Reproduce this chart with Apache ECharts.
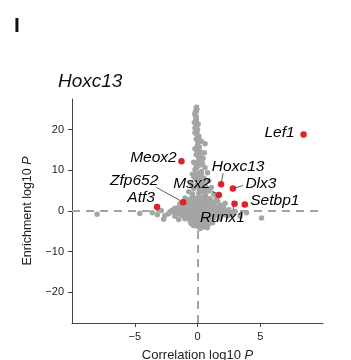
<!DOCTYPE html>
<html>
<head>
<meta charset="utf-8">
<script src="https://cdn.jsdelivr.net/npm/echarts@6/dist/echarts.min.js"></script>
<style>
html,body{margin:0;padding:0;background:#fff;}
#c{width:351px;height:360px;}
</style>
</head>
<body>
<div id="c"></div>
<script>
var xTicks = [-5, 0, 5];
var yTicks = [-20, -10, 0, 10, 20];

// background genes (gray)
var grayPoints = [
 [-0.1,25.5],[-0.15,24.5],[-0.2,23.6],[-0.1,22.8],[-0.25,21.7],[-0.1,20.9],[0.0,20.0],[-0.2,19.2],[0.1,18.4],[-0.1,17.6],
 [0.3,17.1],[0.6,16.5],[0.0,16.2],[-0.2,15.3],[0.2,14.6],[0.55,14.3],[-0.1,13.8],[0.3,13.2],[0.1,12.5],[-0.3,12.0],
 [0.4,11.6],[0.0,11.0],[0.6,10.6],[-0.2,10.2],[0.3,9.7],[0.8,9.4],[-0.4,9.0],[0.1,8.6],[0.5,8.1],[-0.1,7.7],
 [0.9,7.4],[0.3,7.0],[-0.5,6.7],[0.6,6.3],[0.0,6.0],[1.1,5.8],[-0.3,5.5],[0.4,5.2],[0.9,4.9],[-0.7,4.7],
 [0.1,4.4],[1.3,4.1],[0.6,3.9],[-0.4,3.7],[0.2,3.4],[-1.0,3.2],[1.0,3.0],[0.5,2.8],[-0.2,2.6],[1.6,2.4],
 [-0.7,2.3],[0.8,2.1],[0.2,1.9],[-1.4,1.8],[1.3,1.6],[-0.4,1.5],[0.5,1.3],[2.0,1.2],[-1.0,1.1],[1.0,0.9],
 [0.0,0.8],[-1.8,0.7],[1.7,0.6],[-0.6,0.5],[0.6,0.4],[2.5,0.3],[-1.3,0.2],[1.3,0.1],[-0.2,0.0],[3.0,-0.1],
 [-2.2,-0.2],[0.9,-0.3],[-0.9,-0.4],[2.0,-0.5],[0.3,-0.6],[-1.6,-0.7],[1.5,-0.8],[-0.4,-0.9],[0.6,-1.0],[-2.6,-1.1],
 [2.4,-1.2],[-1.1,-1.3],[1.0,-1.4],[0.1,-1.5],[-0.6,-1.7],[1.8,-1.8],[0.4,-2.0],[-1.5,-2.1],[0.9,-2.3],[-0.2,-2.5],
 [0.3,-2.8],[1.2,-2.9],[-0.5,-3.1],[0.6,-3.4],[0.0,-3.7],[0.79,-4.1],[0.2,-4.3],
 [-0.8,1.9],[-0.3,0.9],[0.3,0.2],[-0.5,-0.2],[0.2,-0.3],[1.4,-0.3],[-1.2,-0.6],[0.8,0.8],[-0.9,0.3],[1.9,0.1],
 [-1.9,-0.3],[2.3,-0.2],[1.1,-0.6],[-0.2,-1.1],[0.5,-1.6],[-1.0,-1.9],[1.3,-1.1],[0.0,-1.9],[-0.3,-0.5],[0.4,0.6],
 [1.2,2.2],[-0.6,2.9],[0.7,3.3],[-0.1,3.1],[1.5,3.2],[0.3,4.8],[-0.2,5.9],[0.7,5.6],[0.2,6.5],[-0.2,8.1],
 [-8.0,-0.8],[-4.6,-0.6],[-3.6,-0.4],[-2.9,0.1],[-2.7,-2.0],[-3.2,-0.9],[5.1,-1.7],[3.4,-1.3],[3.9,-0.4],[2.8,-0.9],
 [-0.2,24.0],[0.05,21.3],[-0.05,19.6],[0.15,15.7],[0.45,12.9],[-0.05,9.3],
 [-0.1,0.3],[0.1,-0.1],[-0.4,0.2],[0.4,-0.2],[-0.7,-0.1],[0.7,0.1],[-1.1,0.5],[1.1,0.4],[-1.5,0.0],[1.6,-0.1],
 [-0.2,1.2],[0.2,1.0],[-0.6,1.2],[0.7,1.4],[-1.1,1.4],[1.6,1.0],[-1.7,0.3],[2.1,0.6],[-2.0,0.2],[2.7,-0.5],
 [-0.1,-0.7],[0.3,-0.9],[-0.8,-0.9],[0.9,-0.8],[-1.3,-1.0],[1.7,-1.3],[-0.5,-1.4],[0.6,-1.3],[-0.9,-1.6],[1.3,-1.6],
 [-0.3,-2.0],[0.8,-1.9],[0.1,-2.4],[-0.6,-2.4],[0.6,-2.6],[-0.1,-3.0],[0.9,-3.1],[0.3,-3.3],[-0.3,-3.6],[0.5,-3.9],
 [0.0,1.6],[0.4,2.0],[-0.3,2.1],[0.9,2.6],[-0.9,2.6],[0.2,2.9],[0.6,3.6],[-0.4,4.2],[0.6,4.5],[0.2,5.6],
 [0.0,6.8],[0.5,7.4],[0.2,7.9],[-0.3,8.5],[0.3,9.1],[-0.1,10.6],[0.2,11.3],[-0.2,11.7],[0.1,13.3],[0.2,14.1],
 [-0.05,14.9],[0.05,16.8],[0.1,17.9],[-0.05,18.8],[-0.2,20.4],[-0.15,22.2],[-0.1,23.2],[-0.05,25.0],[1.2,-0.2],[-1.4,-0.2],
 [2.1,-0.9],[-2.3,-0.7],[2.5,-0.8],[-1.8,-1.3],[1.5,0.5],[-1.5,0.9],[1.8,1.5],[-1.2,2.2],[2.2,1.9],[1.0,1.9]
];

// highlighted genes (red)
var geneNames = ['Lef1','Meox2','Hoxc13','Dlx3','Msx2','Setbp1','Runx1','Zfp652','Atf3'];
var geneX = [8.45, -1.28, 1.88, 2.82, 1.7, 3.77, 2.95, -1.14, -3.22];
var geneY = [18.8, 12.2, 6.56, 5.5, 3.93, 1.57, 1.8, 2.14, 0.98];

// label offsets (pixels) and whether a leader line is drawn
var labelDx = [-24, -28, 17, 28, -27, 30, -12, -49, -16];
var labelDy = [-2, -4, -18, -5, -11, -4, 14, -22, -9];
var leader = [false, false, true, true, true, false, true, true, false];

var chart = echarts.init(document.getElementById('c'), null, {renderer:'canvas'});

var FONT = 'Liberation Sans, Arial, sans-serif';
function minusFmt(v){ return String(v).replace('-', '\u2212'); }

var redData = geneNames.map(function(n,i){
  return {
    name: n,
    value: [geneX[i], geneY[i]],
    label: {
      show: true,
      formatter: n,
      position: 'inside',
      offset: [labelDx[i], labelDy[i]],
      align: 'center',
      verticalAlign: 'middle',
      color: '#000',
      textBorderWidth: 0,
      fontStyle: 'italic',
      fontSize: 15.5,
      fontFamily: FONT
    }
  };
});

chart.setOption({
  animation: false,
  backgroundColor: '#fff',
  grid: {left: 72, right: 28, top: 99, bottom: 37, outerBoundsMode: 'none', containLabel: false},
  title: [
    {text: 'I', left: 9, top: 11, textStyle: {fontSize: 21, fontWeight: 'bold', color: '#111', fontFamily: FONT}},
    {text: 'Hoxc13', left: 53, top: 67, textStyle: {fontSize: 19, fontStyle: 'italic', fontWeight: 'normal', color: '#111', fontFamily: FONT}}
  ],
  xAxis: {
    type: 'value', min: -10, max: 10, interval: 5,
    splitLine: {show: false},
    axisLine: {show: true, onZero: false, lineStyle: {color: '#444', width: 1}},
    axisTick: {show: true, length: 4, customValues: xTicks, lineStyle: {color: '#444'}},
    axisLabel: {customValues: xTicks, formatter: minusFmt, fontSize: 11, color: '#222', margin: 8, fontFamily: FONT},
    name: '{n|Correlation log10 }{i|P}',
    nameLocation: 'middle', nameGap: 26,
    nameTextStyle: {rich: {n: {fontSize: 13, color: '#222', fontFamily: FONT}, i: {fontSize: 13, color: '#222', fontStyle: 'italic', fontFamily: FONT}}}
  },
  yAxis: {
    type: 'value', min: -27.5, max: 27.5,
    splitLine: {show: false},
    axisLine: {show: true, onZero: false, lineStyle: {color: '#444', width: 1}},
    axisTick: {show: true, length: 4, customValues: yTicks, lineStyle: {color: '#444'}},
    axisLabel: {customValues: yTicks, formatter: minusFmt, fontSize: 11, color: '#222', margin: 8, fontFamily: FONT},
    name: '{n|Enrichment log10 }{i|P}',
    nameLocation: 'middle', nameGap: 34, nameRotate: 90,
    nameTextStyle: {rich: {n: {fontSize: 12.5, color: '#222', fontFamily: FONT}, i: {fontSize: 12.5, color: '#222', fontStyle: 'italic', fontFamily: FONT}}}
  },
  series: [
    {
      type: 'scatter', data: [], z: 1,
      markLine: {
        silent: true, symbol: 'none', animation: false,
        label: {show: false},
        lineStyle: {color: '#a3a3a3', width: 2, type: [8, 6]},
        data: [{xAxis: 0}, {yAxis: 0}]
      }
    },
    {
      type: 'scatter', z: 2, symbolSize: 5.5,
      itemStyle: {color: '#a5a5a5', opacity: 1},
      data: grayPoints
    },
    {
      type: 'scatter', z: 4, symbolSize: 6.5,
      itemStyle: {color: '#e0202a', opacity: 1},
      data: redData
    }
  ]
});

// leader lines from point to label edge
var g = [];
geneNames.forEach(function(n,i){
  if(!leader[i]) return;
  var p = chart.convertToPixel({gridIndex:0}, [geneX[i], geneY[i]]);
  var dx = labelDx[i], dy = labelDy[i];
  var ex, ey;
  if (n === 'Runx1') { ex = p[0] - 1.5; ey = p[1] + 8; }
  else if (n === 'Hoxc13') { ex = p[0] + 2; ey = p[1] + dy + 7; }
  else if (n === 'Dlx3') { ex = p[0] + 10; ey = p[1] + dy + 2; }
  else if (n === 'Msx2') { ex = p[0] - 7; ey = p[1] - 4; }
  else { ex = p[0] + dx + 22; ey = p[1] + dy + 7; }
  var sx = p[0] + (ex - p[0]) * 0.12, sy = p[1] + (ey - p[1]) * 0.12;
  if (n === 'Runx1') { sx = p[0]-1; sy = p[1] + 2; }
  g.push({type:'line', shape:{x1:sx, y1:sy, x2:ex, y2:ey}, style:{stroke:'#333', lineWidth:0.8}, z:3, silent:true});
});
chart.setOption({graphic: g});
</script>
</body>
</html>
